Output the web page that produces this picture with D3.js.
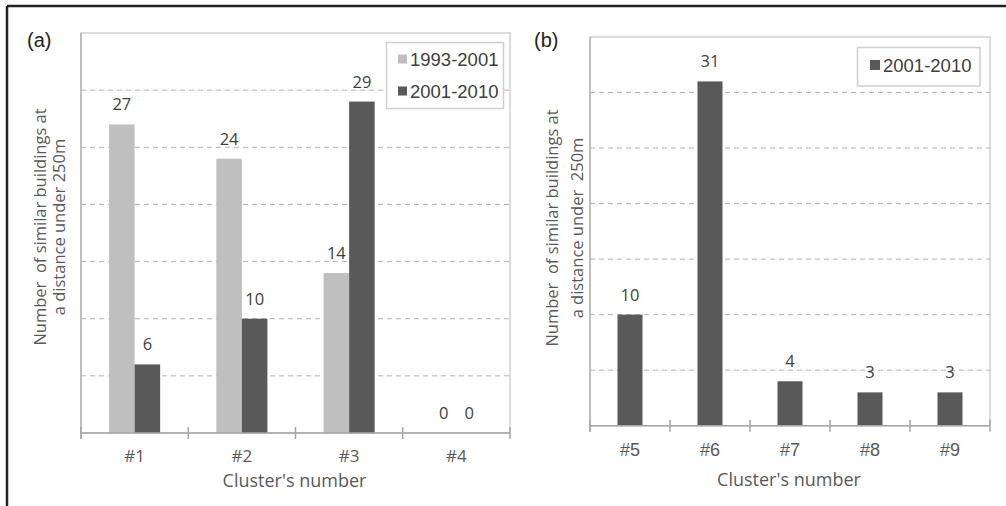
<!DOCTYPE html>
<html>
<head>
<meta charset="utf-8">
<script src="https://cdn.jsdelivr.net/npm/d3@7"></script>
<style>
  body { margin: 0; background: #fff; }
  svg { display: block; }
  .val { font-family: "Open Sans", sans-serif; font-size: 16.5px; fill: #404040; text-anchor: middle; }
  .cat { font-family: "Open Sans", sans-serif; font-size: 17px; fill: #595959; text-anchor: middle; }
  .xtitle { font-family: "Open Sans", sans-serif; font-size: 18px; fill: #595959; text-anchor: middle; }
  .catb { font-family: "Liberation Sans", Arial, sans-serif; font-size: 18px; fill: #595959; text-anchor: middle; }
  .title { font-family: "Open Sans", sans-serif; font-size: 16.5px; fill: #595959; text-anchor: middle; }
  .leg { font-family: "Liberation Sans", Arial, sans-serif; font-size: 18.5px; fill: #404040; }
  .panel { font-family: "Liberation Sans", Arial, sans-serif; font-size: 20px; fill: #222; }
</style>
</head>
<body>
<svg id="chart" width="1006" height="506"></svg>
<script>
// panel (a)
const clustersA = ["#1", "#2", "#3", "#4"];
const seriesA = ["1993-2001", "2001-2010"];
const valuesA1993 = [27, 24, 14, 0];
const valuesA2001 = [6, 10, 29, 0];
// panel (b)
const clustersB = ["#5", "#6", "#7", "#8", "#9"];
const seriesB = ["2001-2010"];
const valuesB2001 = [10, 31, 4, 3, 3];
// shared
const gridTicks = [5, 10, 15, 20, 25, 30];
const yMax = 35;
const xTitle = "Cluster's number";
const yTitleA = ["Number  of similar buildings at", "a distance under 250m"];
const yTitleB = ["Number  of similar buildings at", "a distance under  250m"];

const colors = {"1993-2001": "#bfbfbf", "2001-2010": "#595959"};

const svg = d3.select("#chart");

// outer frame (only top and left edges show)
svg.append("line").attr("x1", 7).attr("y1", 6).attr("x2", 1006).attr("y2", 6)
  .attr("stroke", "#222").attr("stroke-width", 2.5);
svg.append("line").attr("x1", 7).attr("y1", 6).attr("x2", 7).attr("y2", 506)
  .attr("stroke", "#222").attr("stroke-width", 2.5);

function drawFrame(g, x0, x1, y0, y1) {
  g.append("rect")
    .attr("x", x0).attr("y", y0)
    .attr("width", x1 - x0).attr("height", y1 - y0)
    .attr("fill", "none").attr("stroke", "#d0d0d0").attr("stroke-width", 1.5);
}

function drawGrid(g, y, x0, x1) {
  g.selectAll(".grid")
    .data(gridTicks)
    .enter().append("line")
      .attr("class", "grid")
      .attr("x1", x0).attr("x2", x1)
      .attr("y1", d => y(d)).attr("y2", d => y(d))
      .attr("stroke", "#b0b0b0").attr("stroke-width", 1)
      .attr("stroke-dasharray", "5,4");
}

function drawXAxis(g, bounds, yPos) {
  g.append("line")
    .attr("x1", bounds[0]).attr("x2", bounds[bounds.length - 1])
    .attr("y1", yPos).attr("y2", yPos)
    .attr("stroke", "#a6a6a6").attr("stroke-width", 1.5);
  g.selectAll(".tick")
    .data(bounds)
    .enter().append("line")
      .attr("class", "tick")
      .attr("x1", d => d).attr("x2", d => d)
      .attr("y1", yPos - 6).attr("y2", yPos + 6)
      .attr("stroke", "#a6a6a6").attr("stroke-width", 1.5);
}

function drawYTitle(g, lines, xs, yc) {
  lines.forEach((t, i) => {
    g.append("text")
      .attr("class", "title")
      .attr("transform", "translate(" + xs[i] + "," + yc + ") rotate(-90)")
      .attr("dy", "0.35em")
      .style("white-space", "pre")
      .text(t);
  });
}

// ---------- panel (a) ----------
(function() {
  const left = 81, right = 510, top = 33, bottom = 433;
  const g = svg.append("g");

  const y = d3.scaleLinear().domain([0, yMax]).range([bottom, top]);
  const x0 = d3.scaleBand().domain(clustersA).range([left, right]).paddingInner(0).paddingOuter(0);
  const x1 = d3.scaleBand().domain(seriesA).range([0, x0.bandwidth()])
    .paddingInner(0).paddingOuter(1.1);

  drawFrame(g, left, right, top, bottom);
  drawGrid(g, y, left, right);

  const data = [];
  clustersA.forEach((c, i) => {
    data.push({c: c, s: "1993-2001", v: valuesA1993[i]});
    data.push({c: c, s: "2001-2010", v: valuesA2001[i]});
  });

  g.selectAll(".bar")
    .data(data)
    .enter().append("rect")
      .attr("class", "bar")
      .attr("x", d => x0(d.c) + x1(d.s))
      .attr("y", d => y(d.v))
      .attr("width", x1.bandwidth())
      .attr("height", d => bottom - y(d.v))
      .attr("fill", d => colors[d.s]);

  g.selectAll(".val")
    .data(data)
    .enter().append("text")
      .attr("class", "val")
      .attr("x", d => x0(d.c) + x1(d.s) + x1.bandwidth() / 2)
      .attr("y", d => y(d.v) - 14)
      .text(d => d.v);

  // y axis line
  g.append("line").attr("x1", left).attr("x2", left).attr("y1", top).attr("y2", bottom + 6)
    .attr("stroke", "#b4b4b4").attr("stroke-width", 1.5);

  const bounds = clustersA.map(c => x0(c)).concat([right]);
  drawXAxis(g, bounds, bottom);

  g.selectAll(".cat")
    .data(clustersA)
    .enter().append("text")
      .attr("class", "cat")
      .attr("x", d => x0(d) + x0.bandwidth() / 2)
      .attr("y", 462)
      .text(d => d);

  g.append("text").attr("class", "xtitle").attr("x", (left + right) / 2 - 1).attr("y", 487).text(xTitle);

  drawYTitle(g, yTitleA, [40, 59], 227);

  g.append("text").attr("class", "panel").attr("x", 27).attr("y", 47).text("(a)");

  // legend
  const lg = g.append("g");
  lg.append("rect").attr("x", 386.5).attr("y", 42.5).attr("width", 117).attr("height", 66)
    .attr("fill", "#fff").attr("stroke", "#cfcfcf").attr("stroke-width", 1.5);
  seriesA.forEach((s, i) => {
    const cy = 59 + i * 32;
    lg.append("rect").attr("x", 398).attr("y", cy - 4.5).attr("width", 9).attr("height", 9)
      .attr("fill", colors[s]);
    lg.append("text").attr("class", "leg").attr("x", 410).attr("y", cy + 7).text(s);
  });
})();

// ---------- panel (b) ----------
(function() {
  const left = 590, right = 990, top = 37, bottom = 425.7;
  const g = svg.append("g");

  const y = d3.scaleLinear().domain([0, yMax]).range([bottom, top]);
  const x = d3.scaleBand().domain(clustersB).range([left, right])
    .paddingInner(0.6875).paddingOuter(0.34375);

  drawFrame(g, left, right, top, bottom);
  drawGrid(g, y, left, right);

  const data = clustersB.map((c, i) => ({c: c, s: "2001-2010", v: valuesB2001[i]}));

  g.selectAll(".bar")
    .data(data)
    .enter().append("rect")
      .attr("class", "bar")
      .attr("x", d => x(d.c))
      .attr("y", d => y(d.v))
      .attr("width", x.bandwidth())
      .attr("height", d => bottom - y(d.v))
      .attr("fill", d => colors[d.s]);

  g.selectAll(".val")
    .data(data)
    .enter().append("text")
      .attr("class", "val")
      .attr("x", d => x(d.c) + x.bandwidth() / 2)
      .attr("y", d => y(d.v) - 14)
      .text(d => d.v);

  g.append("line").attr("x1", left).attr("x2", left).attr("y1", top).attr("y2", bottom + 6)
    .attr("stroke", "#b4b4b4").attr("stroke-width", 1.5);

  const half = (x.step() - x.bandwidth()) / 2;
  const bounds = clustersB.map(c => x(c) - half).concat([right]);
  drawXAxis(g, bounds, bottom);

  g.selectAll(".catb")
    .data(clustersB)
    .enter().append("text")
      .attr("class", "catb")
      .attr("x", d => x(d) + x.bandwidth() / 2)
      .attr("y", 456)
      .text(d => d);

  g.append("text").attr("class", "xtitle").attr("x", (left + right) / 2 - 1).attr("y", 486).text(xTitle);

  drawYTitle(g, yTitleB, [552, 577], 228);

  g.append("text").attr("class", "panel").attr("x", 534).attr("y", 47).text("(b)");

  const lg = g.append("g");
  lg.append("rect").attr("x", 857.5).attr("y", 47.5).attr("width", 122.5).attr("height", 38.5)
    .attr("fill", "#fff").attr("stroke", "#cfcfcf").attr("stroke-width", 1.5);
  seriesB.forEach((s, i) => {
    const cy = 65 + i * 32;
    lg.append("rect").attr("x", 870).attr("y", cy - 5).attr("width", 10).attr("height", 10)
      .attr("fill", colors[s]);
    lg.append("text").attr("class", "leg").attr("x", 883).attr("y", cy + 7).text(s);
  });
})();
</script>
</body>
</html>
